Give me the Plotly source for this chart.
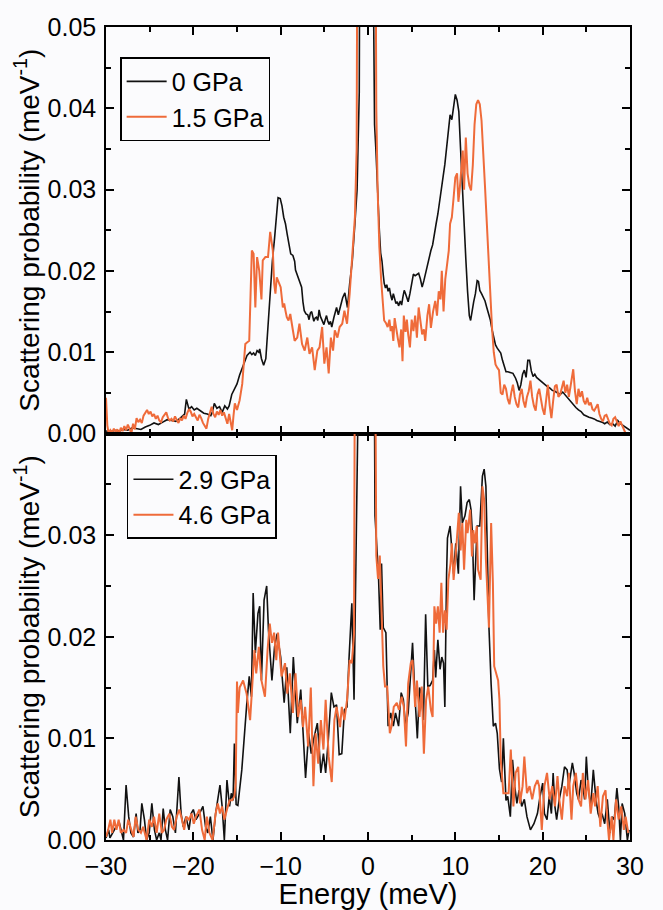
import plotly.graph_objects as go
from plotly.subplots import make_subplots

# ---------------- data ----------------
e_0gpa = [-30.0,-29.5,-29.0,-28.5,-28.0,-27.5,-27.0,-26.5,-26.0,-25.5,-25.0,-24.5,-24.0,-23.5,-23.0,-22.5,-22.0,-21.5,-21.0,-20.8,
-20.5,-20.2,-19.9,-19.6,-19.2,-18.8,-18.4,-18.0,-17.8,-17.6,-17.3,-17.0,-16.7,-16.4,-16.1,-15.9,-15.6,-15.4,-15.0,-14.7,
-14.4,-14.1,-13.85,-13.5,-13.3,-13.1,-12.9,-12.7,-12.5,-12.4,-12.2,-11.95,-11.7,-11.4,-11.15,-10.95,-10.7,-10.5,-10.3,-10.05,
-9.85,-9.65,-9.45,-9.25,-9.05,-8.85,-8.6,-8.4,-8.3,-8.0,-7.8,-7.6,-7.45,-7.3,-7.1,-6.9,-6.75,-6.6,-6.45,-6.2,
-6.05,-5.9,-5.75,-5.6,-5.45,-5.3,-5.05,-4.9,-4.75,-4.6,-4.45,-4.3,-4.15,-3.9,-3.75,-3.6,-3.4,-3.15,-2.9,-2.65,
-2.5,-2.35,-2.1,-1.8,-1.5,-1.25,-1.0,-0.75,-0.5,-0.25,0.0,0.25,0.5,0.75,0.9,1.1,1.3,1.45,1.6,1.75,
1.85,2.0,2.15,2.3,2.45,2.6,2.75,2.9,3.05,3.2,3.35,3.5,3.7,3.85,4.0,4.15,4.3,4.45,4.6,4.8,
5.0,5.2,5.4,5.6,5.8,6.0,6.2,6.4,6.6,6.8,7.0,7.2,7.4,7.6,7.8,8.0,8.2,8.4,8.6,8.8,
9.0,9.2,9.4,9.6,9.8,10.0,10.2,10.4,10.6,10.8,11.0,11.2,11.4,11.6,11.75,11.9,12.1,12.3,12.5,12.65,
12.8,13.0,13.2,13.4,13.6,13.8,14.0,14.2,14.4,14.6,14.8,15.0,15.2,15.4,15.6,15.8,16.0,16.3,16.6,16.9,
17.1,17.3,17.5,17.7,17.9,18.1,18.3,18.5,18.7,18.9,19.1,19.3,19.6,19.9,20.2,20.5,20.8,21.1,21.4,21.7,
22.0,22.3,22.6,22.9,23.2,23.5,23.8,24.1,24.4,24.7,25.0,25.3,25.6,25.9,26.2,26.5,26.8,27.1,27.4,27.7,
28.0,28.3,28.6,28.9,29.2,29.5,29.8,30.0]
p_0gpa = [0.0003,0.0002,0.0004,0.0003,0.0005,0.0004,0.0007,0.0006,0.0005,0.0008,0.0010,0.0013,0.0011,0.0014,0.0017,0.0016,0.0015,0.0019,0.0024,0.0042,
0.0030,0.0033,0.0029,0.0031,0.0028,0.0025,0.0024,0.0022,0.0027,0.0037,0.0031,0.0033,0.0026,0.0034,0.0030,0.0034,0.0048,0.0053,0.0061,0.0072,
0.0081,0.0090,0.0096,0.0100,0.0097,0.0099,0.0096,0.0102,0.0100,0.0104,0.0092,0.0084,0.0092,0.0140,0.0185,0.0212,0.0240,0.0265,0.0290,0.0289,
0.0280,0.0266,0.0258,0.0245,0.0233,0.0221,0.0219,0.0212,0.0201,0.0192,0.0188,0.0180,0.0162,0.0151,0.0147,0.0146,0.0140,0.0148,0.0150,0.0138,
0.0142,0.0143,0.0139,0.0152,0.0144,0.0140,0.0134,0.0140,0.0145,0.0138,0.0134,0.0138,0.0131,0.0143,0.0150,0.0155,0.0146,0.0157,0.0167,0.0173,
0.0162,0.0155,0.0184,0.0212,0.0258,0.0300,0.0420,0.0800,0.2000,0.4000,0.4000,0.2000,0.0700,0.0380,0.0350,0.0290,0.0250,0.0222,0.0212,0.0195,
0.0185,0.0179,0.0183,0.0175,0.0179,0.0170,0.0164,0.0172,0.0166,0.0160,0.0162,0.0157,0.0163,0.0158,0.0168,0.0176,0.0172,0.0165,0.0162,0.0172,
0.0185,0.0196,0.0194,0.0195,0.0197,0.0190,0.0180,0.0188,0.0198,0.0204,0.0214,0.0225,0.0232,0.0247,0.0258,0.0270,0.0284,0.0296,0.0316,0.0331,
0.0350,0.0369,0.0392,0.0386,0.0400,0.0417,0.0410,0.0396,0.0350,0.0300,0.0255,0.0215,0.0175,0.0145,0.0139,0.0150,0.0162,0.0172,0.0188,0.0187,
0.0176,0.0172,0.0168,0.0163,0.0155,0.0148,0.0140,0.0128,0.0120,0.0109,0.0105,0.0102,0.0099,0.0090,0.0082,0.0076,0.0076,0.0075,0.0074,0.0068,
0.0062,0.0053,0.0060,0.0073,0.0078,0.0069,0.0090,0.0090,0.0077,0.0070,0.0073,0.0069,0.0066,0.0063,0.0060,0.0058,0.0056,0.0053,0.0052,0.0050,
0.0048,0.0051,0.0047,0.0044,0.0040,0.0036,0.0032,0.0029,0.0027,0.0023,0.0021,0.0020,0.0019,0.0018,0.0016,0.0015,0.0014,0.0012,0.0014,0.0011,
0.0012,0.0009,0.0016,0.0012,0.0010,0.0008,0.0005,0.0004]

e_15gpa = [-30.0,-29.85,-29.7,-29.5,-29.3,-29.1,-28.9,-28.7,-28.5,-28.3,-28.1,-27.9,-27.7,-27.5,-27.3,-27.1,-26.9,-26.7,-26.5,-26.3,
-26.1,-25.9,-25.7,-25.5,-25.3,-25.1,-24.9,-24.7,-24.5,-24.3,-24.1,-23.9,-23.7,-23.5,-23.3,-23.1,-22.9,-22.7,-22.5,-22.3,
-22.1,-21.9,-21.7,-21.5,-21.3,-21.1,-20.9,-20.7,-20.5,-20.3,-20.1,-19.9,-19.7,-19.5,-19.3,-19.1,-18.9,-18.7,-18.5,-18.3,
-18.1,-17.9,-17.7,-17.5,-17.3,-17.1,-16.9,-16.7,-16.5,-16.3,-16.1,-15.9,-15.7,-15.55,-15.4,-15.25,-15.0,-14.7,-14.4,-14.2,
-14.05,-13.85,-13.6,-13.45,-13.3,-13.1,-12.9,-12.7,-12.45,-12.2,-12.05,-11.75,-11.45,-11.2,-10.9,-10.75,-10.6,-10.45,-10.3,-10.0,
-9.75,-9.6,-9.45,-9.3,-9.1,-8.9,-8.6,-8.4,-8.1,-7.85,-7.55,-7.25,-6.95,-6.7,-6.4,-6.1,-5.8,-5.55,-5.25,-5.0,
-4.75,-4.5,-4.25,-4.0,-3.8,-3.5,-3.25,-2.95,-2.7,-2.4,-2.1,-1.8,-1.5,-1.3,-1.1,-0.9,-0.5,0.0,0.5,0.8,
0.95,1.1,1.3,1.5,1.7,1.85,2.05,2.25,2.45,2.6,2.75,2.9,3.05,3.2,3.4,3.6,3.8,3.95,4.1,4.3,
4.45,4.6,4.8,5.0,5.2,5.4,5.6,5.8,6.0,6.2,6.4,6.55,6.8,7.0,7.2,7.45,7.7,7.9,8.1,8.3,
8.45,8.65,8.85,9.05,9.25,9.4,9.6,9.8,10.0,10.2,10.35,10.5,10.65,10.85,11.0,11.2,11.4,11.6,11.8,12.0,
12.2,12.4,12.6,12.8,13.0,13.2,13.4,13.6,13.8,14.0,14.2,14.4,14.6,14.8,15.0,15.2,15.4,15.6,15.8,16.0,
16.2,16.4,16.6,16.8,17.0,17.2,17.4,17.6,17.8,18.0,18.2,18.4,18.6,18.8,19.0,19.2,19.4,19.6,19.8,20.0,
20.2,20.4,20.6,20.8,21.0,21.2,21.4,21.6,21.8,22.0,22.2,22.4,22.6,22.8,23.0,23.2,23.4,23.5,23.7,23.9,
24.1,24.3,24.5,24.7,24.9,25.1,25.3,25.5,25.7,25.9,26.1,26.3,26.5,26.7,26.9,27.1,27.3,27.5,27.7,27.9,
28.1,28.3,28.5,28.7,28.9,29.1,29.3,29.5,29.7,30.0]
p_15gpa = [0.0044,0.0010,0.0000,0.0004,0.0001,0.0006,0.0002,0.0005,0.0000,0.0007,0.0003,0.0009,0.0004,0.0011,0.0006,0.0000,0.0012,0.0005,0.0019,0.0014,
0.0017,0.0013,0.0022,0.0025,0.0029,0.0024,0.0027,0.0021,0.0024,0.0018,0.0022,0.0016,0.0014,0.0020,0.0023,0.0026,0.0019,0.0016,0.0018,0.0015,
0.0021,0.0017,0.0013,0.0019,0.0016,0.0022,0.0018,0.0025,0.0030,0.0027,0.0021,0.0024,0.0020,0.0016,0.0023,0.0019,0.0013,0.0009,0.0006,0.0018,
0.0026,0.0033,0.0024,0.0020,0.0027,0.0023,0.0029,0.0022,0.0026,0.0018,0.0012,0.0024,0.0010,0.0004,0.0022,0.0037,0.0029,0.0041,0.0061,0.0090,
0.0110,0.0112,0.0114,0.0170,0.0225,0.0221,0.0155,0.0217,0.0200,0.0165,0.0213,0.0217,0.0217,0.0248,0.0225,0.0185,0.0172,0.0192,0.0188,0.0180,
0.0155,0.0160,0.0151,0.0143,0.0139,0.0147,0.0127,0.0114,0.0118,0.0135,0.0110,0.0102,0.0118,0.0098,0.0106,0.0078,0.0102,0.0106,0.0131,0.0086,
0.0106,0.0074,0.0118,0.0102,0.0127,0.0118,0.0131,0.0135,0.0151,0.0135,0.0172,0.0225,0.0266,0.0350,0.0600,0.1500,0.4000,0.5000,0.3000,0.0800,
0.0400,0.0300,0.0230,0.0190,0.0155,0.0139,0.0136,0.0131,0.0140,0.0126,0.0132,0.0114,0.0142,0.0130,0.0118,0.0106,0.0128,0.0089,0.0145,0.0125,
0.0140,0.0122,0.0106,0.0140,0.0126,0.0145,0.0118,0.0155,0.0140,0.0122,0.0128,0.0114,0.0145,0.0159,0.0130,0.0150,0.0163,0.0145,0.0175,0.0165,
0.0200,0.0150,0.0190,0.0210,0.0225,0.0258,0.0266,0.0290,0.0315,0.0320,0.0285,0.0300,0.0323,0.0348,0.0300,0.0364,0.0320,0.0305,0.0299,0.0330,
0.0380,0.0405,0.0410,0.0405,0.0385,0.0350,0.0303,0.0260,0.0210,0.0170,0.0130,0.0100,0.0085,0.0081,0.0078,0.0050,0.0048,0.0060,0.0055,0.0042,
0.0036,0.0050,0.0060,0.0045,0.0036,0.0032,0.0048,0.0055,0.0040,0.0032,0.0045,0.0052,0.0065,0.0045,0.0034,0.0028,0.0048,0.0055,0.0040,0.0030,
0.0023,0.0045,0.0060,0.0035,0.0019,0.0040,0.0058,0.0060,0.0045,0.0048,0.0055,0.0065,0.0050,0.0060,0.0045,0.0058,0.0075,0.0079,0.0052,0.0036,
0.0055,0.0045,0.0052,0.0040,0.0036,0.0044,0.0035,0.0038,0.0030,0.0028,0.0032,0.0036,0.0024,0.0018,0.0015,0.0022,0.0023,0.0016,0.0012,0.0010,
0.0018,0.0020,0.0014,0.0009,0.0015,0.0010,0.0005,0.0000,0.0000,0.0000]

e_29gpa = [-30.0,-29.7,-29.55,-29.2,-28.85,-28.45,-28.15,-28.0,-27.7,-27.4,-27.15,-26.85,-26.55,-26.35,-26.1,-25.9,-25.6,-25.35,-25.05,-24.75,
-24.45,-24.2,-23.9,-23.7,-23.45,-23.2,-22.95,-22.65,-22.35,-22.05,-21.65,-21.4,-21.15,-20.85,-20.5,-20.25,-20.0,-19.7,-19.3,-18.9,
-18.6,-18.35,-18.05,-17.75,-17.45,-17.2,-16.95,-16.7,-16.45,-16.15,-15.85,-15.65,-15.45,-15.3,-15.1,-14.9,-14.45,-13.9,-13.6,-13.35,
-13.15,-12.9,-12.6,-12.4,-12.2,-11.9,-11.6,-11.4,-11.0,-10.7,-10.4,-10.0,-9.6,-9.3,-8.9,-8.55,-8.4,-8.1,-7.7,-7.5,
-7.15,-6.8,-6.5,-6.2,-5.8,-5.6,-5.4,-5.1,-4.85,-4.55,-4.2,-3.9,-3.6,-3.3,-3.0,-2.7,-2.4,-2.2,-1.85,-1.6,
-1.4,-1.1,-0.8,-0.4,0.0,0.4,0.7,0.8,1.0,1.2,1.4,1.55,1.75,2.05,2.3,2.6,2.9,3.15,3.5,3.8,
4.05,4.3,4.6,4.8,5.1,5.4,5.65,5.9,6.1,6.35,6.6,6.85,7.1,7.4,7.6,7.75,8.0,8.25,8.45,8.65,
8.8,9.0,9.1,9.4,9.6,9.8,10.05,10.35,10.6,10.8,11.1,11.35,11.6,11.8,11.95,12.15,12.35,12.5,12.8,13.1,
13.3,13.5,13.7,13.85,14.1,14.35,14.6,14.8,15.05,15.3,15.5,15.8,16.0,16.3,16.55,16.8,17.05,17.3,17.6,17.9,
18.2,18.6,19.0,19.4,19.7,20.0,20.2,20.5,20.75,21.0,21.2,21.4,21.6,21.9,22.2,22.5,22.8,23.0,23.4,23.6,
23.9,24.1,24.4,24.6,24.8,25.0,25.2,25.5,25.8,26.1,26.35,26.6,26.8,27.1,27.4,27.7,27.95,28.2,28.5,28.7,
28.9,29.1,29.4,29.7,29.9]
p_29gpa = [0.0002,0.0010,0.0002,0.0007,0.0013,0.0016,0.0007,0.0000,0.0054,0.0023,0.0007,0.0003,0.0026,0.0007,0.0010,0.0036,0.0020,0.0000,0.0007,0.0036,
0.0010,0.0000,0.0007,0.0000,0.0031,0.0010,0.0000,0.0030,0.0023,0.0007,0.0062,0.0026,0.0013,0.0023,0.0010,0.0026,0.0030,0.0020,0.0026,0.0033,
0.0013,0.0007,0.0023,0.0000,0.0026,0.0039,0.0054,0.0033,0.0000,0.0059,0.0033,0.0046,0.0039,0.0095,0.0035,0.0034,0.0069,0.0132,0.0161,0.0141,
0.0243,0.0184,0.0223,0.0230,0.0157,0.0236,0.0250,0.0207,0.0157,0.0190,0.0203,0.0180,0.0135,0.0170,0.0105,0.0180,0.0157,0.0115,0.0148,0.0120,
0.0061,0.0105,0.0085,0.0100,0.0115,0.0092,0.0066,0.0085,0.0066,0.0098,0.0145,0.0131,0.0133,0.0084,0.0085,0.0128,0.0131,0.0174,0.0233,0.0138,
0.0266,0.0450,0.1200,0.4000,0.5000,0.3000,0.0500,0.0319,0.0290,0.0260,0.0207,0.0272,0.0209,0.0204,0.0112,0.0125,0.0112,0.0125,0.0112,0.0145,
0.0138,0.0112,0.0125,0.0150,0.0194,0.0138,0.0100,0.0150,0.0144,0.0118,0.0222,0.0151,0.0152,0.0157,0.0187,0.0160,0.0197,0.0168,0.0180,0.0174,
0.0131,0.0262,0.0297,0.0309,0.0285,0.0262,0.0292,0.0262,0.0348,0.0312,0.0319,0.0332,0.0335,0.0325,0.0302,0.0236,0.0279,0.0309,0.0309,0.0358,
0.0365,0.0348,0.0269,0.0209,0.0153,0.0112,0.0115,0.0105,0.0070,0.0057,0.0100,0.0039,0.0043,0.0023,0.0079,0.0053,0.0036,0.0049,0.0033,0.0040,
0.0023,0.0010,0.0016,0.0026,0.0043,0.0056,0.0026,0.0020,0.0043,0.0026,0.0066,0.0033,0.0020,0.0040,0.0053,0.0072,0.0069,0.0053,0.0076,0.0066,
0.0046,0.0040,0.0059,0.0053,0.0040,0.0082,0.0053,0.0033,0.0069,0.0040,0.0026,0.0020,0.0026,0.0016,0.0040,0.0007,0.0023,0.0020,0.0051,0.0033,
0.0000,0.0036,0.0026,0.0000,0.0010]

e_46gpa = [-30.0,-29.75,-29.5,-29.3,-29.05,-28.8,-28.55,-28.3,-28.0,-27.7,-27.45,-27.1,-26.85,-26.6,-26.3,-26.0,-25.75,-25.35,-25.05,-24.75,
-24.5,-24.2,-23.9,-23.6,-23.35,-23.1,-22.75,-22.45,-22.2,-21.9,-21.6,-21.3,-21.05,-20.8,-20.5,-20.2,-19.95,-19.7,-19.3,-19.0,
-18.7,-18.45,-18.15,-17.8,-17.45,-17.2,-16.95,-16.7,-16.45,-16.15,-15.85,-15.55,-15.3,-15.15,-15.0,-14.9,-14.7,-14.3,-13.9,-13.5,
-13.3,-13.0,-12.8,-12.5,-12.2,-11.8,-11.5,-11.25,-11.0,-10.75,-10.5,-10.3,-9.9,-9.5,-9.25,-8.95,-8.6,-8.3,-8.0,-7.7,
-7.45,-7.2,-6.85,-6.55,-6.25,-6.0,-5.7,-5.4,-5.1,-4.85,-4.5,-4.15,-3.85,-3.6,-3.2,-3.0,-2.7,-2.4,-2.1,-1.85,
-1.6,-1.45,-1.15,-0.8,-0.4,0.0,0.4,0.75,0.95,1.15,1.35,1.55,1.75,1.95,2.2,2.5,2.7,2.95,3.3,3.55,
3.85,4.1,4.35,4.6,4.9,5.1,5.4,5.6,5.9,6.15,6.4,6.65,6.9,7.2,7.4,7.6,7.8,8.0,8.2,8.4,
8.6,8.8,9.0,9.2,9.45,9.6,9.8,10.0,10.2,10.4,10.6,10.8,11.0,11.25,11.4,11.7,11.9,12.05,12.25,12.45,
12.6,12.9,13.1,13.3,13.5,13.65,13.85,14.1,14.3,14.45,14.65,14.9,15.05,15.2,15.5,15.8,16.1,16.35,16.65,16.9,
17.2,17.4,17.7,17.9,18.2,18.5,18.8,19.1,19.4,19.6,19.9,20.2,20.5,20.8,21.1,21.4,21.7,21.9,22.2,22.5,
22.8,23.0,23.3,23.5,23.8,24.1,24.4,24.6,24.9,25.2,25.5,25.8,26.0,26.3,26.6,26.9,27.2,27.4,27.6,27.9,
28.1,28.4,28.7,29.0,29.3,29.5,29.8]
p_46gpa = [0.0003,0.0010,0.0020,0.0007,0.0020,0.0010,0.0020,0.0007,0.0010,0.0007,0.0020,0.0010,0.0003,0.0023,0.0010,0.0007,0.0013,0.0000,0.0020,0.0013,
0.0023,0.0007,0.0026,0.0007,0.0010,0.0020,0.0026,0.0013,0.0010,0.0023,0.0030,0.0020,0.0010,0.0023,0.0020,0.0026,0.0016,0.0023,0.0030,0.0010,
0.0000,0.0023,0.0007,0.0000,0.0026,0.0036,0.0026,0.0033,0.0020,0.0030,0.0039,0.0039,0.0043,0.0056,0.0156,0.0125,0.0150,0.0157,0.0144,0.0118,
0.0150,0.0187,0.0164,0.0190,0.0157,0.0141,0.0187,0.0213,0.0194,0.0204,0.0177,0.0204,0.0161,0.0174,0.0144,0.0164,0.0125,0.0164,0.0121,0.0138,
0.0111,0.0131,0.0092,0.0150,0.0053,0.0105,0.0075,0.0118,0.0089,0.0138,0.0082,0.0057,0.0118,0.0131,0.0111,0.0131,0.0118,0.0138,0.0177,0.0174,
0.0203,0.0285,0.0500,0.1500,0.4000,0.5000,0.3000,0.0600,0.0280,0.0257,0.0280,0.0213,0.0171,0.0151,0.0151,0.0105,0.0112,0.0131,0.0135,0.0128,
0.0141,0.0131,0.0092,0.0154,0.0174,0.0177,0.0131,0.0157,0.0121,0.0151,0.0085,0.0138,0.0151,0.0128,0.0121,0.0230,0.0213,0.0230,0.0204,0.0253,
0.0204,0.0226,0.0207,0.0256,0.0272,0.0292,0.0256,0.0276,0.0302,0.0322,0.0285,0.0312,0.0266,0.0315,0.0302,0.0325,0.0279,0.0305,0.0292,0.0309,
0.0266,0.0256,0.0348,0.0335,0.0276,0.0243,0.0209,0.0312,0.0253,0.0171,0.0164,0.0157,0.0138,0.0079,0.0046,0.0046,0.0046,0.0089,0.0033,0.0066,
0.0072,0.0036,0.0053,0.0082,0.0046,0.0053,0.0040,0.0053,0.0059,0.0053,0.0010,0.0053,0.0066,0.0040,0.0053,0.0033,0.0063,0.0040,0.0020,0.0053,
0.0043,0.0066,0.0020,0.0053,0.0066,0.0040,0.0033,0.0066,0.0040,0.0059,0.0026,0.0046,0.0033,0.0053,0.0013,0.0043,0.0049,0.0020,0.0000,0.0023,
0.0000,0.0040,0.0020,0.0033,0.0010,0.0023,0.0007]

names_top = ["0 GPa", "1.5 GPa"]
names_bottom = ["2.9 GPa", "4.6 GPa"]
x_tick_vals = [-30, -20, -10, 0, 10, 20, 30]
y_top_ticks = [0.00, 0.01, 0.02, 0.03, 0.04, 0.05]
y_bot_ticks = [0.00, 0.01, 0.02, 0.03]

# ---------------- styling ----------------
BLACK = "#111111"
ORANGE = "#ef6b3a"
FONT = "Liberation Sans, Arial, sans-serif"
BG = "#fbfbfd"

fig = make_subplots(rows=2, cols=1, shared_xaxes=True, vertical_spacing=0)

fig.add_trace(go.Scatter(x=e_0gpa, y=p_0gpa, mode="lines", name=names_top[0],
                         line=dict(color=BLACK, width=1.6), legend="legend"), row=1, col=1)
fig.add_trace(go.Scatter(x=e_15gpa, y=p_15gpa, mode="lines", name=names_top[1],
                         line=dict(color=ORANGE, width=2), legend="legend"), row=1, col=1)
fig.add_trace(go.Scatter(x=e_29gpa, y=p_29gpa, mode="lines", name=names_bottom[0],
                         line=dict(color=BLACK, width=1.6), legend="legend2"), row=2, col=1)
fig.add_trace(go.Scatter(x=e_46gpa, y=p_46gpa, mode="lines", name=names_bottom[1],
                         line=dict(color=ORANGE, width=2), legend="legend2"), row=2, col=1)

axis_common = dict(showline=True, linecolor="black", linewidth=1.5, mirror="ticks",
                   ticks="inside", ticklen=8, tickwidth=1.5, tickcolor="black",
                   showgrid=False, zeroline=False, ticklabelstandoff=3,
                   tickfont=dict(family=FONT, size=25, color="black"))

fig.update_xaxes(**axis_common, automargin=False, range=[-30, 30], tickvals=x_tick_vals,
                 minor=dict(dtick=5, tick0=0, ticks="inside", ticklen=5, tickwidth=1.5, tickcolor="black"))
fig.update_xaxes(showticklabels=False, row=1, col=1)
fig.update_xaxes(title=dict(text="Energy (meV)", font=dict(family=FONT, size=29, color="black")),
                 row=2, col=1)

ytitle = "Scattering probability (meV<sup>-1</sup>)"
fig.update_yaxes(**axis_common, automargin=True, tickformat=".2f",
                 minor=dict(dtick=0.005, tick0=0, ticks="inside", ticklen=5, tickwidth=1.5, tickcolor="black"),
                 title=dict(text=ytitle, font=dict(family=FONT, size=28, color="black"), standoff=0))
fig.update_yaxes(range=[0, 0.05], tickvals=y_top_ticks, row=1, col=1)
fig.update_yaxes(range=[0, 0.04], tickvals=y_bot_ticks, row=2, col=1)

legend_common = dict(bgcolor=BG, bordercolor="black", borderwidth=1.5,
                     font=dict(family=FONT, size=25, color="black"),
                     xanchor="left", yanchor="top", tracegroupgap=0, itemwidth=40)

fig.update_layout(
    width=663, height=910,
    margin=dict(l=106, r=33, t=27, b=70),
    paper_bgcolor=BG, plot_bgcolor=BG,
    showlegend=True,
    legend=dict(**legend_common, x=0.027, y=0.963),
    legend2=dict(**legend_common, x=0.040, y=0.4736),
)

fig.write_html("out.html")
